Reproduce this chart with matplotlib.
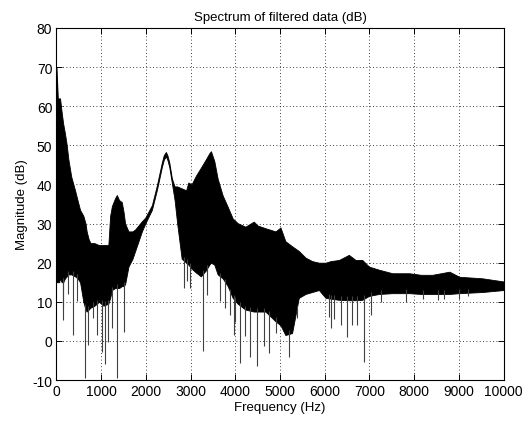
import numpy as np
import matplotlib
matplotlib.use("Agg")
import matplotlib.pyplot as plt

plt.rcParams['font.family'] = ['Liberation Sans', 'DejaVu Sans']

# Envelope of the dense spectrum
freq_hz = [0, 30, 60, 80, 115, 150, 190, 230, 265, 330, 415, 470, 527, 600, 650, 675,
           720, 760, 850, 950, 1050, 1160, 1200, 1240, 1310, 1350, 1400, 1460, 1500,
           1535, 1610, 1700, 1760, 1910, 1985, 2134, 2246, 2358, 2400, 2447, 2480,
           2522, 2582, 2642, 2700, 2800, 2900, 2950, 3020, 3117, 3230, 3340, 3420,
           3455, 3530, 3605, 3717, 3830, 3942, 4054, 4226, 4413, 4500, 4675, 4900,
           5011, 5120, 5270, 5420, 5570, 5720, 5870, 6020, 6130, 6320, 6540, 6690,
           6840, 6990, 7215, 7515, 7890, 8150, 8410, 8790, 9010, 9530, 10000]
upper_db = [70, 62, 62, 62, 58.5, 55.5, 53, 50, 46.5, 42, 38.5, 36, 33.5, 32, 30, 28,
            26, 25, 25, 24.5, 24.5, 24.5, 32, 34.5, 36.5, 37.3, 36, 35.5, 33,
            30, 28, 28, 28.5, 30.6, 31.5, 34.7, 39.8, 45.7, 47.5, 48.3, 47.5,
            45.7, 41.5, 39.5, 39.5, 39, 38.5, 40.5, 40, 42.2, 44.3, 46.4, 48,
            48.5, 46, 41.5, 37.2, 34.3, 31.3, 30.1, 29.2, 30.5, 29.5, 28.8, 28,
            29, 25.5, 24.2, 23, 21.3, 20.4, 20, 20, 20.4, 20.7, 22, 20.7,
            20.7, 19, 18.2, 17.3, 17.3, 16.9, 16.9, 17.7, 16.4, 16, 15.2]
lower_db = [15, 15, 15, 16, 15, 15, 16, 16.5, 17, 17, 16.5, 16, 15, 10, 8, 7.5,
            8, 8.5, 9, 10, 9, 9.5, 11, 13, 13.5, 13.5, 13.5, 14, 14,
            14.5, 19, 21, 23, 28, 30, 33.5, 38.6, 44.5, 46.3, 47.2, 46.3,
            44.5, 40.3, 36, 30, 21, 20, 19.5, 18.5, 17.5, 16.5, 18, 19.5,
            20, 19.5, 17, 16, 14, 11, 9.5, 8, 7.5, 7.5, 7.5, 5,
            4, 1.5, 2, 11, 12, 12.5, 13, 11, 10.8, 10.5, 10.4, 10.4,
            10.5, 11.5, 12, 12.2, 12.2, 12, 12, 12, 12.2, 12.5, 13]

# Downward spikes (frequency, minimum dB)
spike_hz = [138, 146, 260, 363, 452, 639, 714, 826, 900, 1013, 1087, 1162, 1237,
            1350, 1500, 2843, 2918, 2993, 3270, 3368, 3665, 3777, 3890, 3964, 4002,
            4114, 4226, 4338, 4488, 4637, 4750, 4900, 5198, 5370, 6095, 6132, 6207,
            6357, 6507, 6619, 6731, 6881, 7030, 7254, 7814, 8188, 8524, 8674, 9010,
            9197]
spike_db = [5.4, 8.5, 12, 1.5, 10.1, -9.6, -1.1, 5.8, 1.5, -2.8, -6, -0.2, 3.2,
            -9.6, 2.4, 13.5, 15.2, 13.5, -2.6, 11.8, 10.1, 8.4, 6.7, 1.5, 4.9,
            -5.6, 1.2, -4, -6.4, -1.3, -3, 2.1, -4, 5.9, 6, 3.2, 5.7,
            4, 1, 4, 4, -5.3, 6.5, 9.9, 9.9, 10.8, 10.4, 10.8, 10.8,
            11.5]

xticks = [0, 1000, 2000, 3000, 4000, 5000, 6000, 7000, 8000, 9000, 10000]
yticks = [-10, 0, 10, 20, 30, 40, 50, 60, 70, 80]

fig = plt.figure(figsize=(5.28, 4.27), dpi=100)
ax = fig.add_axes([0.107, 0.1077, 0.8466, 0.8244])

f = np.array(freq_hz, dtype=float)
ax.fill_between(f, lower_db, upper_db, color='black', linewidth=0.6,
                edgecolor='black', zorder=3)
sf = np.array(spike_hz, dtype=float)
base = np.interp(sf, f, lower_db) + 1
ax.vlines(sf, spike_db, base, color='0.25', linewidth=0.8, zorder=3)

ax.set_xlim(0, 10000)
ax.set_ylim(-10, 80)
ax.set_xticks(xticks)
ax.set_yticks(yticks)
ax.set_xticklabels([str(t) for t in xticks])
ax.set_yticklabels([str(t) for t in yticks])
ax.tick_params(direction='in', top=True, right=True, length=4, width=0.7,
               labelsize=10, pad=3)
ax.grid(True, color='black', linestyle=(0, (1, 3)), linewidth=0.6)
ax.set_axisbelow(True)
for s in ax.spines.values():
    s.set_linewidth(0.8)

ax.set_title('Spectrum of filtered data (dB)', fontsize=9.5, pad=6)
ax.set_xlabel('Frequency (Hz)', fontsize=9.5, labelpad=2)
ax.set_ylabel('Magnitude (dB)', fontsize=9.5, labelpad=3)

fig.savefig('out.png', dpi=100)
